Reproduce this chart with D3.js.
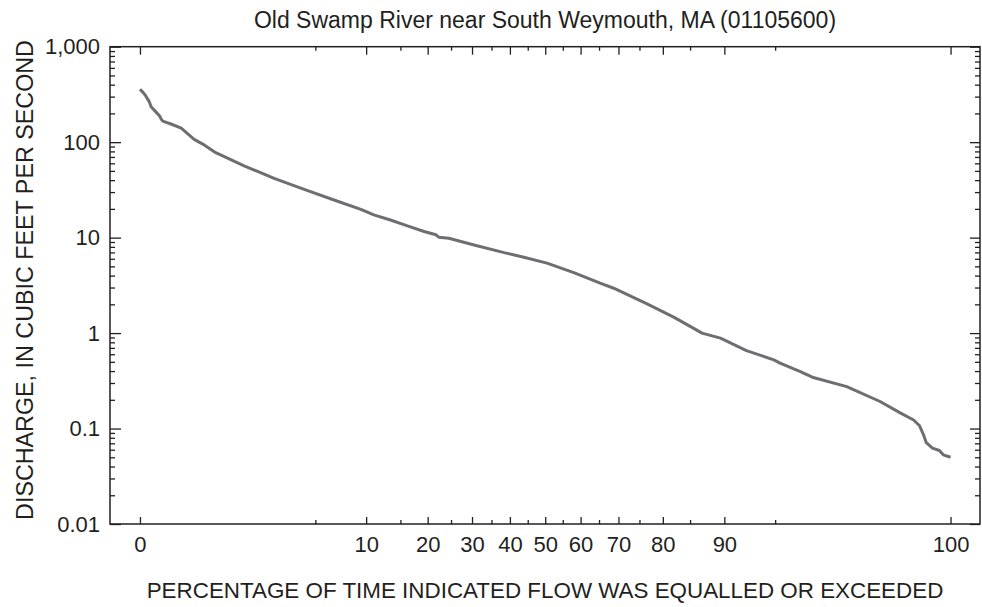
<!DOCTYPE html>
<html>
<head>
<meta charset="utf-8">
<script src="https://cdn.jsdelivr.net/npm/d3@7"></script>
<style>
  body { margin: 0; background: #fff; }
  svg { display: block; font-family: "Liberation Sans", Arial, sans-serif; }
  .axis text { font-size: 22px; fill: #231f20; }
  .axis line { stroke: #231f20; stroke-width: 1.3; }
  .axis .domain { display: none; }
</style>
</head>
<body>
<svg width="982" height="607"></svg>
<script>
// flow duration
var percentExceeded = [0, 0.2, 0.21, 0.23, 0.24, 0.26, 0.29, 0.3, 0.31, 0.37, 0.46, 0.6, 0.74, 0.92,
    1.56, 2.62, 4.46, 6.54, 9.35, 11.0, 13.4, 16.2, 19.3, 21.7, 22.3, 24.5, 30.5, 38.4, 43.9,
    50.5, 58.1, 65.3, 68.8, 76.7, 82.1, 85.6, 86.9, 89.5, 92.5, 94.9, 95.35, 96.6, 97.2, 98.45,
    99.17, 99.44, 99.58, 99.63, 99.66, 99.68, 99.72, 99.76, 99.78, 100];
var discharge = [358, 332, 312, 266, 235, 214, 188, 174, 166, 155, 140, 107, 93, 77.6,
    56.5, 41.8, 31, 24.8, 19.8, 17.3, 15.3, 13.3, 11.6, 10.7, 10.1, 9.86, 8.38, 6.96, 6.23,
    5.4, 4.3, 3.33, 2.95, 2.02, 1.47, 1.12, 1.0, 0.885, 0.656, 0.524, 0.484, 0.395, 0.345, 0.275,
    0.192, 0.147, 0.123, 0.107, 0.086, 0.071, 0.0624, 0.0589, 0.053, 0.05];

var xMajor = [0, 10, 20, 30, 40, 50, 60, 70, 80, 90, 100];
var xMinor = [5, 15, 25, 35, 45, 55, 65, 75, 85, 95];
var yMajor = [0.01, 0.1, 1, 10, 100, 1000];
var yLabels = ["0.01", "0.1", "1", "10", "100", "1,000"];

var titleText = "Old Swamp River near South Weymouth, MA (01105600)";
var xTitle = "PERCENTAGE OF TIME INDICATED FLOW WAS EQUALLED OR EXCEEDED";
var yTitle = "DISCHARGE, IN CUBIC FEET PER SECOND";

var svg = d3.select("svg");
var plotL = 110, plotR = 980, plotT = 46.7, plotB = 524;

// normal probability scale: percent -> z (clamped so 0 and 100 can be shown)
var zMax = 2.9;
function probit(pct) {
    var p = pct / 100;
    var lo = 1 - 0.9981342;
    p = Math.max(lo, Math.min(1 - lo, p));
    var q = p < 0.5 ? p : 1 - p;
    var t = Math.sqrt(-2 * Math.log(q));
    var z = t - (2.515517 + 0.802853 * t + 0.010328 * t * t) /
        (1 + 1.432788 * t + 0.189269 * t * t + 0.001308 * t * t * t);
    return p < 0.5 ? -z : z;
}

var xz = d3.scaleLinear().domain([-zMax, zMax]).range([140, 950.5]);
var x = function(p) { return xz(probit(p)); };
var y = d3.scaleLog().domain([0.01, 1000]).range([plotB, plotT]);

var yMinor = [];
yMajor.slice(0, -1).forEach(function(d) {
    for (var k = 2; k <= 9; k++) yMinor.push(d * k);
});

// bottom axis
svg.append("g").attr("class", "axis")
    .attr("transform", "translate(0," + plotB + ")")
    .call(d3.axisBottom(xz).tickValues(xMajor.map(probit)).tickSize(-7).tickPadding(12)
        .tickFormat(function(d, i) { return xMajor[i]; }));
svg.append("g").attr("class", "axis")
    .attr("transform", "translate(0," + plotB + ")")
    .call(d3.axisBottom(xz).tickValues(xMinor.map(probit)).tickSize(-4).tickFormat(""));
// top axis
svg.append("g").attr("class", "axis")
    .attr("transform", "translate(0," + plotT + ")")
    .call(d3.axisTop(xz).tickValues(xMajor.map(probit)).tickSize(-8).tickFormat(""));
svg.append("g").attr("class", "axis")
    .attr("transform", "translate(0," + plotT + ")")
    .call(d3.axisTop(xz).tickValues(xMinor.map(probit)).tickSize(-4).tickFormat(""));

// left axis
svg.append("g").attr("class", "axis")
    .attr("transform", "translate(" + plotL + ",0)")
    .call(d3.axisLeft(y).tickValues(yMajor).tickSize(-11).tickPadding(10)
        .tickFormat(function(d, i) { return yLabels[i]; }));
svg.append("g").attr("class", "axis")
    .attr("transform", "translate(" + plotL + ",0)")
    .call(d3.axisLeft(y).tickValues(yMinor).tickSize(-5).tickFormat(""));
// right axis
svg.append("g").attr("class", "axis")
    .attr("transform", "translate(" + plotR + ",0)")
    .call(d3.axisRight(y).tickValues(yMajor).tickSize(-10).tickFormat(""));
svg.append("g").attr("class", "axis")
    .attr("transform", "translate(" + plotR + ",0)")
    .call(d3.axisRight(y).tickValues(yMinor).tickSize(-5).tickFormat(""));

// frame
svg.append("rect")
    .attr("x", plotL).attr("y", plotT)
    .attr("width", plotR - plotL).attr("height", plotB - plotT)
    .attr("fill", "none").attr("stroke", "#231f20").attr("stroke-width", 1.5);

// curve
var line = d3.line()
    .x(function(d, i) { return x(percentExceeded[i]); })
    .y(function(d) { return y(d); });

svg.append("path")
    .datum(discharge)
    .attr("d", line)
    .attr("fill", "none")
    .attr("stroke", "#6d6e71")
    .attr("stroke-width", 3)
    .attr("stroke-linejoin", "round");

// titles
svg.append("text")
    .attr("x", (plotL + plotR) / 2).attr("y", 28)
    .attr("text-anchor", "middle")
    .style("font-size", "23px").attr("fill", "#231f20")
    .text(titleText);

svg.append("text")
    .attr("x", (plotL + plotR) / 2).attr("y", 598)
    .attr("text-anchor", "middle")
    .style("font-size", "22.4px").attr("fill", "#231f20")
    .text(xTitle);

svg.append("text")
    .attr("transform", "translate(33,280) rotate(-90)")
    .attr("text-anchor", "middle")
    .style("font-size", "23.3px").attr("fill", "#231f20")
    .text(yTitle);
</script>
</body>
</html>
